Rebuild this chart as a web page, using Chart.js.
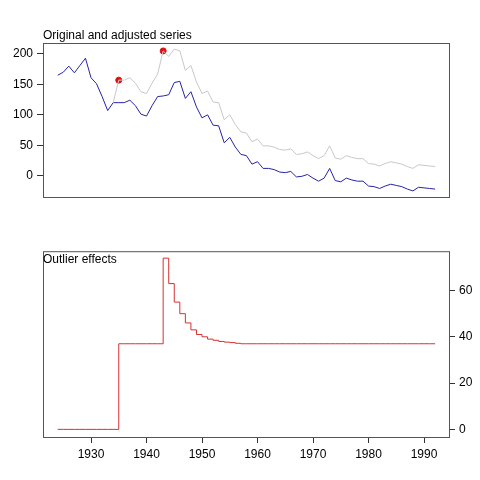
<!DOCTYPE html>
<html>
<head>
<script src="https://cdn.jsdelivr.net/npm/chart.js@4"></script>
<style>
  body { margin: 0; background: #fff; }
  canvas { position: absolute; left: 0; }
</style>
</head>
<body>
<canvas id="top" width="480" height="240" style="top:0;width:480px;height:240px"></canvas>
<canvas id="bottom" width="480" height="240" style="top:240px;width:480px;height:240px"></canvas>
<script>
const startYear = 1924;
const adjusted = [165, 170, 180, 169, 181, 193, 161, 151, 130, 107, 120, 120, 120, 124, 115, 101, 98, 115, 130, 131,
  133, 153, 155, 127, 138, 113, 95, 100, 83, 82, 54, 63, 47, 35, 33, 19, 23, 12, 12, 10,
  6, 5, 7, -2, -1, 2, -4, -9, -4, 12, -8, -10, -4, -7, -9, -9, -17, -18, -21, -17,
  -14, -16, -18, -22, -25, -19, -20, -21, -22];
// same as adjusted before 1934, hidden under the blue line in the reference
const original = [null, null, null, null, null, null, null, null, null, null, 120, 157, 157, 161, 152, 138, 135, 152, 167, 205,
  196, 208, 205, 173, 181, 154, 135, 139, 121, 120, 92, 100, 84, 72, 70, 56, 60, 49, 49, 47,
  43, 42, 44, 35, 36, 39, 33, 28, 33, 49, 29, 27, 33, 30, 28, 28, 20, 19, 16, 20,
  23, 21, 19, 15, 12, 18, 17, 16, 15];
const effects = [0, 0, 0, 0, 0, 0, 0, 0, 0, 0, 0, 37, 37, 37, 37, 37, 37, 37, 37, 74,
  63, 55, 50, 46, 43, 41, 40, 39, 38.5, 38, 37.7, 37.5, 37.2, 37, 37, 37, 37, 37, 37, 37,
  37, 37, 37, 37, 37, 37, 37, 37, 37, 37, 37, 37, 37, 37, 37, 37, 37, 37, 37, 37,
  37, 37, 37, 37, 37, 37, 37, 37, 37];
const outlierYears = [1935, 1943];
const xTicks = [1930, 1940, 1950, 1960, 1970, 1980, 1990];
const topTicks = [0, 50, 100, 150, 200];
const bottomTicks = [0, 20, 40, 60];

const years = adjusted.map((_, i) => startYear + i);
const pts = arr => arr.map((v, i) => ({ x: years[i], y: v }));
const font = { family: 'Liberation Sans, Arial, sans-serif', size: 12 };

const frame = {
  id: 'frame',
  afterDraw(chart, args, opts) {
    const { ctx, chartArea: a } = chart;
    ctx.save();
    ctx.strokeStyle = '#555';
    ctx.lineWidth = 1;
    ctx.strokeRect(a.left + 0.5, a.top + 0.5, a.right - a.left, a.bottom - a.top);
    ctx.fillStyle = '#000';
    ctx.font = '12px Liberation Sans, Arial, sans-serif';
    ctx.textBaseline = opts.baseline;
    ctx.fillText(opts.title, a.left, a.top + opts.dy);
    ctx.restore();
  }
};

const xScale = (show) => ({
  type: 'linear', min: 1921.35, max: 1994.5, display: show,
  afterBuildTicks: s => { s.ticks = xTicks.map(v => ({ value: v })); },
  afterFit: s => { s.height = 43; },
  grid: { drawOnChartArea: false, tickLength: 6, color: '#333' },
  border: { display: false },
  ticks: { color: '#000', font, padding: 4, callback: v => String(v) }
});

new Chart(document.getElementById('top'), {
  type: 'line',
  data: {
    datasets: [
      { data: pts(original), borderColor: '#c8c8c8', borderWidth: 1, pointRadius: 0 },
      { data: pts(adjusted), borderColor: '#2424a8', borderWidth: 1, pointRadius: 0 },
      { data: outlierYears.map(y => ({ x: y, y: original[y - startYear] })), showLine: false,
        pointRadius: 3, pointBackgroundColor: '#e01010', pointBorderColor: '#e01010' }
    ]
  },
  options: {
    responsive: false, animation: false, devicePixelRatio: 1,
    layout: { padding: { top: 43, right: 31, bottom: 0, left: 0 } },
    plugins: { legend: { display: false }, tooltip: { enabled: false },
      frame: { title: 'Original and adjusted series', dy: -1, baseline: 'bottom' } },
    scales: {
      x: xScale(false),
      y: {
        min: -35, max: 218, position: 'left',
        afterBuildTicks: s => { s.ticks = topTicks.map(v => ({ value: v })); },
        afterFit: s => { s.width = 43; },
        grid: { drawOnChartArea: false, tickLength: 6, color: '#333' },
        border: { display: false },
        ticks: { color: '#000', font, padding: 4 }
      }
    }
  },
  plugins: [frame]
});

new Chart(document.getElementById('bottom'), {
  type: 'line',
  data: {
    datasets: [
      { data: pts(effects), borderColor: '#d83030', borderWidth: 1, pointRadius: 0, stepped: 'before' }
    ]
  },
  options: {
    responsive: false, animation: false, devicePixelRatio: 1,
    layout: { padding: { top: 0, right: 0, bottom: 0, left: 43 } },
    plugins: { legend: { display: false }, tooltip: { enabled: false },
      frame: { title: 'Outlier effects', dy: 2, baseline: 'top' } },
    scales: {
      x: xScale(true),
      y: {
        min: -3.3, max: 77, position: 'right',
        afterBuildTicks: s => { s.ticks = bottomTicks.map(v => ({ value: v })); },
        afterFit: s => { s.width = 31; },
        grid: { drawOnChartArea: false, tickLength: 6, color: '#333' },
        border: { display: false },
        ticks: { color: '#000', font, padding: 4 }
      }
    }
  },
  plugins: [frame]
});
</script>
</body>
</html>
